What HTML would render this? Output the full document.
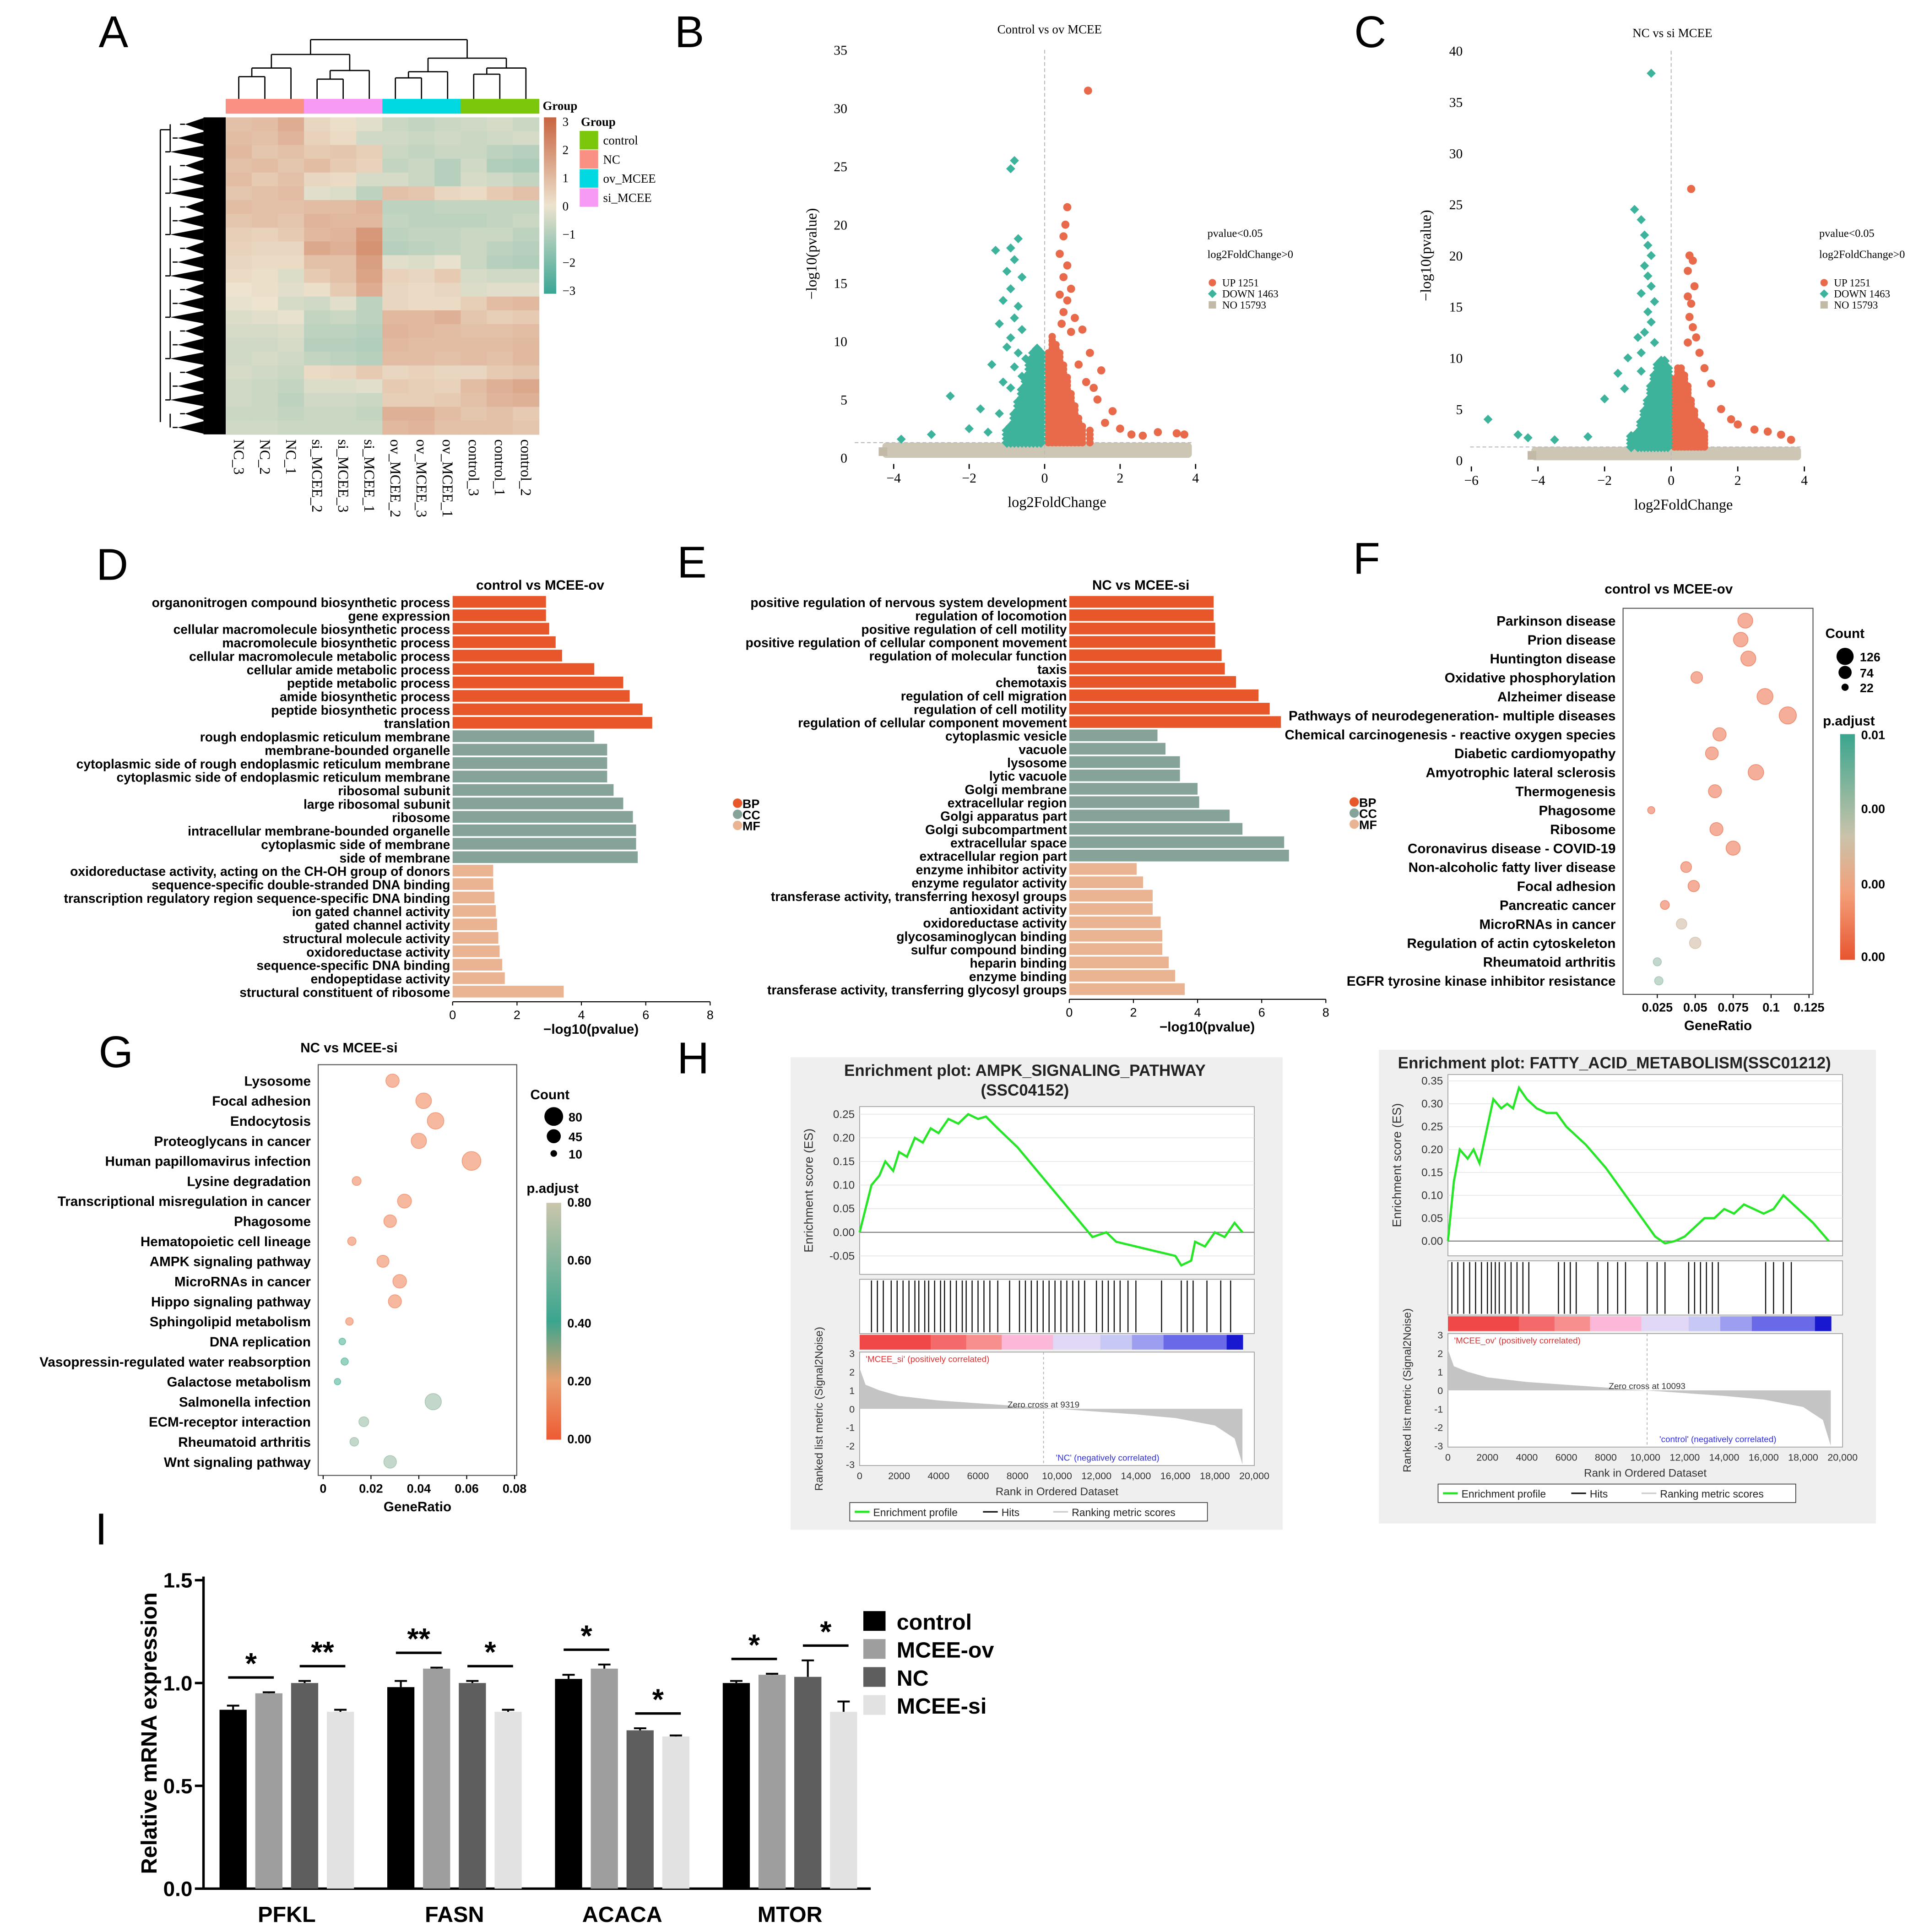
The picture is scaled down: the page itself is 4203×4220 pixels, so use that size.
<!DOCTYPE html>
<html><head><meta charset="utf-8"><style>
html,body{margin:0;padding:0;background:#fff;}
svg{display:block;}
</style></head><body>
<svg id="fig" xmlns="http://www.w3.org/2000/svg" width="4203" height="4220" viewBox="0 0 1560 1566" font-family="Liberation Sans, sans-serif">
<defs>
<linearGradient id="hmgrad" x1="0" y1="0" x2="0" y2="1"><stop offset="0" stop-color="#c8643f"/><stop offset="0.5" stop-color="#ede3cf"/><stop offset="1" stop-color="#3aa594"/></linearGradient>
<linearGradient id="fgrad" x1="0" y1="0" x2="0" y2="1"><stop offset="0" stop-color="#3aa58e"/><stop offset="0.45" stop-color="#c9c3aa"/><stop offset="0.7" stop-color="#f3a07a"/><stop offset="1" stop-color="#e8552f"/></linearGradient>
<linearGradient id="ggrad" x1="0" y1="0" x2="0" y2="1"><stop offset="0" stop-color="#cac6ab"/><stop offset="0.5" stop-color="#3aa58e"/><stop offset="0.75" stop-color="#e8a070"/><stop offset="1" stop-color="#ef5a33"/></linearGradient>
</defs>
<g id="root"></g>
</svg>
<script>
// ===== DATA =====
const hmCols = ["NC_3","NC_2","NC_1","si_MCEE_2","si_MCEE_3","si_MCEE_1","ov_MCEE_2","ov_MCEE_3","ov_MCEE_1","control_3","control_1","control_2"];
const hmVals = [
[0.8,0.9,1.3,0.3,0.1,-0.2,-0.6,-0.7,-0.6,-0.5,-0.4,-0.6],
[0.9,0.8,1.1,0.4,0.2,-0.5,-0.5,-0.6,-0.5,-0.6,-0.5,-0.4],
[1.0,0.7,0.8,0.6,0.7,0.5,-0.6,-0.7,-0.6,-0.6,-0.8,-0.9],
[0.8,0.9,0.7,0.9,0.6,0.4,-0.7,-0.6,-0.9,-0.5,-1.0,-1.1],
[0.9,0.6,0.8,0.3,0.2,-0.4,-0.4,-0.6,-0.9,-0.4,-0.5,-0.7],
[0.7,0.8,0.9,-0.2,-0.3,-0.8,0.8,0.7,0.3,0.2,0.6,0.8],
[0.9,0.8,0.8,0.9,0.9,1.1,-0.8,-0.8,-0.7,-0.7,-0.7,-0.7],
[0.7,0.8,0.7,1.1,1.0,1.0,-0.7,-0.8,-0.8,-0.8,-0.7,-0.6],
[0.5,0.4,0.6,1.0,1.1,1.8,-0.8,-0.7,-0.7,-0.6,-0.6,-0.8],
[0.4,0.3,0.3,1.4,1.2,1.9,-0.9,-0.8,-0.7,-0.6,-0.8,-0.9],
[0.3,0.2,0.2,0.8,0.8,1.6,-0.2,-0.3,-0.1,-0.6,-0.9,-1.0],
[0.2,0.1,-0.3,0.6,0.8,1.5,0.4,0.3,0.6,-0.4,-0.5,-0.5],
[0.0,0.1,-0.2,0.1,0.6,1.3,0.3,0.2,0.3,-0.3,-0.2,-0.2],
[-0.1,0.0,-0.4,-0.5,-0.2,-0.8,0.3,0.2,0.2,0.5,0.9,1.0],
[-0.3,-0.2,-0.1,-0.7,-0.6,-0.8,1.0,1.0,1.2,0.7,0.5,0.6],
[-0.4,-0.4,-0.3,-0.8,-0.8,-0.9,1.1,1.0,0.9,0.8,0.8,0.9],
[-0.5,-0.5,-0.4,-0.9,-0.9,-1.0,1.0,0.9,0.9,0.9,0.9,1.0],
[-0.5,-0.4,-0.5,-0.7,-0.8,-0.9,0.9,0.9,0.8,0.9,0.8,1.0],
[-0.4,-0.5,-0.6,0.2,0.3,0.6,0.3,0.4,0.3,0.3,0.6,0.7],
[-0.5,-0.6,-0.7,-0.3,-0.3,-0.2,0.6,0.5,0.4,0.9,1.2,1.4],
[-0.5,-0.6,-0.8,-0.5,-0.5,-0.6,0.5,0.5,0.6,0.8,1.1,1.2],
[-0.6,-0.6,-0.7,-0.6,-0.6,-0.7,1.2,1.2,0.9,0.7,0.8,0.6],
[-0.5,-0.5,-0.6,-0.6,-0.6,-0.6,1.0,1.1,0.8,0.8,0.8,0.7]
];
const groupNames = ["control","NC","ov_MCEE","si_MCEE"];
const groupColors = ["#7ac70c","#fa8f84","#00d9e1","#f79af5"];

const bUp = [[1.15,31.5],[0.6,21.5],[0.55,20],[0.5,19],[0.4,17.5],[0.6,16.5],[0.5,15.5],[0.7,14.5],[0.4,14],[0.6,13.5],[0.5,12.5],[0.8,12],[0.45,11.5],[1.0,11],[0.7,10.8],[1.2,9],[1.5,7.5],[1.3,6],[1.8,4],[1.4,5],[2.0,2.5],[2.3,2],[3.0,2.2],[3.5,2.1],[3.7,2],[2.6,1.9],[1.6,3],[0.9,8],[1.1,6.5]];
const bDown = [[-0.8,25.5],[-0.9,24.8],[-1.3,17.8],[-0.7,18.8],[-0.9,18],[-0.8,17],[-1.0,16],[-0.6,15.5],[-0.9,14.5],[-1.1,13.5],[-0.7,13],[-0.8,12],[-1.2,11.5],[-0.6,11],[-0.9,10.3],[-1.0,9.5],[-0.7,9],[-0.5,8.5],[-1.4,8],[-0.8,7.8],[-0.6,7],[-1.1,6.5],[-0.5,6.2],[-0.9,6],[-2.5,5.3],[-1.7,4.2],[-1.2,3.8],[-2.0,2.5],[-3.0,2],[-3.8,1.6],[-1.5,2.2]];
const bUpCols = [[0.1,9],[0.2,10.5],[0.3,10],[0.4,9],[0.5,8],[0.6,7],[0.7,5.5],[0.8,4.5],[0.9,3.5],[1.0,3],[1.2,2.5]];
const bDownCols = [[-0.1,9],[-0.2,9.5],[-0.3,9],[-0.4,8.5],[-0.5,7],[-0.6,6],[-0.7,5],[-0.8,4],[-0.9,3],[-1.0,2.5]];
const cUp = [[0.6,26.5],[0.55,20],[0.65,19.5],[0.5,18.5],[0.7,17],[0.5,16],[0.6,15.3],[0.55,14],[0.65,13],[0.75,12],[0.5,11.5],[0.85,10.5],[1.0,9],[1.2,7.5],[1.5,5],[2.0,3.5],[2.5,3],[2.9,2.8],[3.3,2.5],[3.6,2],[1.8,4]];
const cDown = [[-0.6,37.8],[-1.1,24.5],[-0.9,23.5],[-0.8,22],[-0.7,21],[-0.6,20],[-0.8,19],[-0.7,18],[-0.6,17],[-0.9,16.3],[-0.5,15.5],[-0.7,14.5],[-0.6,13.5],[-0.8,12.5],[-1.0,12],[-0.5,11.5],[-1.3,10],[-0.9,10.5],[-1.6,8.5],[-2.0,6],[-5.5,4],[-4.6,2.5],[-4.3,2.2],[-3.5,2],[-2.5,2.3],[-1.4,7],[-0.9,8.7]];
const cUpCols = [[0.1,8],[0.2,9],[0.3,9],[0.4,8.5],[0.5,7.5],[0.6,6],[0.7,5],[0.8,4],[0.9,3.5],[1.0,3]];
const cDownCols = [[-0.1,9],[-0.2,10],[-0.3,10],[-0.4,9.5],[-0.5,8.5],[-0.6,7.5],[-0.7,6],[-0.8,5],[-0.9,4],[-1.0,3],[-1.2,2.5]];

const dLabels = ["organonitrogen compound biosynthetic process","gene expression","cellular macromolecule biosynthetic process","macromolecule biosynthetic process","cellular macromolecule metabolic process","cellular amide metabolic process","peptide metabolic process","amide biosynthetic process","peptide biosynthetic process","translation","rough endoplasmic reticulum membrane","membrane-bounded organelle","cytoplasmic side of rough endoplasmic reticulum membrane","cytoplasmic side of endoplasmic reticulum membrane","ribosomal subunit","large ribosomal subunit","ribosome","intracellular membrane-bounded organelle","cytoplasmic side of membrane","side of membrane","oxidoreductase activity, acting on the CH-OH group of donors","sequence-specific double-stranded DNA binding","transcription regulatory region sequence-specific DNA binding","ion gated channel activity","gated channel activity","structural molecule activity","oxidoreductase activity","sequence-specific DNA binding","endopeptidase activity","structural constituent of ribosome"];
const dValues = [2.9,2.9,3.0,3.2,3.4,4.4,5.3,5.5,5.9,6.2,4.4,4.8,4.8,4.8,5.0,5.3,5.6,5.7,5.7,5.75,1.26,1.26,1.3,1.34,1.38,1.42,1.46,1.54,1.62,3.45];
const dTypes = ["BP","BP","BP","BP","BP","BP","BP","BP","BP","BP","CC","CC","CC","CC","CC","CC","CC","CC","CC","CC","MF","MF","MF","MF","MF","MF","MF","MF","MF","MF"];
const eLabels = ["positive regulation of nervous system development","regulation of locomotion","positive regulation of cell motility","positive regulation of cellular component movement","regulation of molecular function","taxis","chemotaxis","regulation of cell migration","regulation of cell motility","regulation of cellular component movement","cytoplasmic vesicle","vacuole","lysosome","lytic vacuole","Golgi membrane","extracellular region","Golgi apparatus part","Golgi subcompartment","extracellular space","extracellular region part","enzyme inhibitor activity","enzyme regulator activity","transferase activity, transferring hexosyl groups","antioxidant activity","oxidoreductase activity","glycosaminoglycan binding","sulfur compound binding","heparin binding","enzyme binding","transferase activity, transferring glycosyl groups"];
const eValues = [4.5,4.5,4.55,4.55,4.75,4.85,5.2,5.9,6.25,6.6,2.75,3.0,3.45,3.45,4.0,4.05,5.0,5.4,6.7,6.85,2.1,2.3,2.6,2.6,2.85,2.9,2.9,3.1,3.3,3.6];
const eTypes = dTypes;
const goTicks = [0,2,4,6,8];

const fLabels = ["Parkinson disease","Prion disease","Huntington disease","Oxidative phosphorylation","Alzheimer disease","Pathways of neurodegeneration- multiple diseases","Chemical carcinogenesis - reactive oxygen species","Diabetic cardiomyopathy","Amyotrophic lateral sclerosis","Thermogenesis","Phagosome","Ribosome","Coronavirus disease - COVID-19","Non-alcoholic fatty liver disease","Focal adhesion","Pancreatic cancer","MicroRNAs in cancer","Regulation of actin cytoskeleton","Rheumatoid arthritis","EGFR tyrosine kinase inhibitor resistance"];
const fRatio = [0.083,0.08,0.085,0.051,0.096,0.111,0.066,0.061,0.09,0.063,0.021,0.064,0.075,0.044,0.049,0.030,0.041,0.050,0.025,0.026];
const fCount = [95,90,96,58,108,126,75,70,102,72,22,73,85,50,55,34,47,56,28,30];
const fPadj = [0.0,0.0,0.0,0.0,0.0,0.0,0.0,0.0,0.0,0.0,0.0,0.0,0.0,0.0,0.0,0.001,0.004,0.005,0.006,0.008];
const fTicks = [0.025,0.05,0.075,0.1,0.125];
const gLabels = ["Lysosome","Focal adhesion","Endocytosis","Proteoglycans in cancer","Human papillomavirus infection","Lysine degradation","Transcriptional misregulation in cancer","Phagosome","Hematopoietic cell lineage","AMPK signaling pathway","MicroRNAs in cancer","Hippo signaling pathway","Sphingolipid metabolism","DNA replication","Vasopressin-regulated water reabsorption","Galactose metabolism","Salmonella infection","ECM-receptor interaction","Rheumatoid arthritis","Wnt signaling pathway"];
const gRatio = [0.029,0.042,0.047,0.040,0.062,0.014,0.034,0.028,0.012,0.025,0.032,0.030,0.011,0.008,0.009,0.006,0.046,0.017,0.013,0.028];
const gCount = [40,55,62,53,80,18,44,36,16,33,42,39,13,10,12,9,60,22,17,36];
const gPadj = [0.12,0.12,0.12,0.12,0.12,0.12,0.12,0.12,0.12,0.12,0.12,0.13,0.14,0.35,0.38,0.40,0.52,0.52,0.55,0.60];
const gTicks = [0,0.02,0.04,0.06,0.08];

const h1Rank = [0,0.3,0.6,1.0,1.3,1.7,2.0,2.4,2.8,3.2,3.6,4.0,4.5,5.0,5.5,6.0,6.4,7.0,8.0,9.0,10.0,11.0,11.8,12.5,13.0,14.0,15.0,16.0,16.3,16.8,17.0,17.5,18.0,18.5,19.0,19.4];
const h1ES = [0,0.05,0.1,0.12,0.15,0.13,0.17,0.16,0.2,0.19,0.22,0.21,0.24,0.23,0.25,0.24,0.245,0.22,0.18,0.13,0.08,0.03,-0.01,0.0,-0.02,-0.03,-0.04,-0.05,-0.07,-0.06,-0.02,-0.03,0.0,-0.01,0.02,0.0];
const h1Hits = [0.6,0.9,1.2,1.6,1.9,2.2,2.5,2.8,3.0,3.3,3.5,3.8,4.1,4.3,4.6,4.9,5.2,5.4,5.7,6.0,6.3,6.6,7.0,7.6,8.1,8.4,8.7,9.0,9.3,9.6,9.9,10.2,10.5,10.8,11.1,11.4,12.0,12.3,12.6,12.9,13.2,13.6,14.0,15.3,16.3,16.6,16.9,17.6,18.3,18.8];
const h2Rank = [0,0.3,0.6,1.0,1.3,1.6,2.0,2.3,2.7,3.0,3.3,3.6,4.0,4.5,5.0,5.5,6.0,7.0,8.0,9.0,10.0,10.5,11.0,11.5,12.0,12.5,13.0,13.5,14.0,14.5,15.0,15.5,16.0,16.5,17.0,17.5,18.5,19.3];
const h2ES = [0,0.13,0.2,0.18,0.2,0.17,0.25,0.31,0.29,0.3,0.29,0.335,0.31,0.29,0.28,0.28,0.25,0.21,0.16,0.1,0.04,0.01,-0.005,0.0,0.01,0.03,0.05,0.05,0.07,0.06,0.08,0.07,0.06,0.07,0.1,0.08,0.04,0.0];
const h2Hits = [0.2,0.5,0.8,1.1,1.4,1.7,2.0,2.2,2.4,2.6,2.9,3.2,3.5,3.8,4.1,5.6,5.9,6.2,6.5,7.6,8.1,8.6,9.0,10.1,10.6,11.0,12.2,12.5,12.8,13.1,13.4,13.7,16.1,16.5,17.0,17.4];
const metRank = [0,0.3,1,2,4,6,8,10,12,14,16,18,19,19.4];
const metVal = [2.2,1.3,1.0,0.7,0.45,0.3,0.15,0,-0.15,-0.3,-0.5,-0.9,-1.6,-3];
const rankTicks = [0,2000,4000,6000,8000,10000,12000,14000,16000,18000,20000];
const h1ESTicks = [0.25,0.2,0.15,0.1,0.05,0,-0.05];
const h2ESTicks = [0.35,0.3,0.25,0.2,0.15,0.1,0.05,0];

const iGenes = ["PFKL","FASN","ACACA","MTOR"];
const iSeries = ["control","MCEE-ov","NC","MCEE-si"];
const iValues = [[0.87,0.95,1.0,0.86],[0.98,1.07,1.0,0.86],[1.02,1.07,0.77,0.74],[1.0,1.04,1.03,0.86]];
const iErr = [[0.02,0.005,0.01,0.01],[0.03,0.005,0.01,0.01],[0.02,0.02,0.01,0.005],[0.01,0.005,0.08,0.05]];
const iSig = [["*","**"],["**","*"],["*","*"],["*","*"]];
const iTicks = [0,0.5,1.0,1.5];

// ===== DRAW =====
const NS="http://www.w3.org/2000/svg";
const root=document.getElementById('root');
function add(tag,attrs,name,parent){
  const el=document.createElementNS(NS,tag);
  for(const k in attrs) el.setAttribute(k,attrs[k]);
  
  
  (parent||root).appendChild(el);
  return el;
}
function txt(x,y,s,size,name,o){
  o=o||{};
  const a={x:x,y:y,'font-size':size,fill:o.fill||'#000'};
  if(o.anchor)a['text-anchor']=o.anchor;
  if(o.weight)a['font-weight']=o.weight;
  if(o.family)a['font-family']=o.family;
  if(o.rot!==undefined)a.transform='rotate('+o.rot+' '+x+' '+y+')';
  const el=add('text',a,name);
  el.textContent=s;
  return el;
}
function line(x1,y1,x2,y2,stroke,w,name,dash){
  const a={x1:x1,y1:y1,x2:x2,y2:y2,stroke:stroke,'stroke-width':w};
  if(dash)a['stroke-dasharray']=dash;
  return add('line',a,name);
}
const SERIF='Liberation Serif, serif';
[["A",80,38],["B",547,38],["C",1098,38],["D",78,470],["E",549,468],["F",1097,465],["G",80,865],["H",549,870],["I",77,1252]].forEach(p=>{
  txt(p[1],p[2],p[0],36,'panel-label-'+p[0].toLowerCase());
});

// ---- A heatmap
(function(){
  const x0=183,x1=437,y0=95,y1=352;
  const cw=(x1-x0)/hmCols.length, rh=(y1-y0)/hmVals.length;
  function col(v){
    const t=Math.max(-3,Math.min(3,v))/3;
    const mid=[237,227,207], pos=[200,100,63], neg=[58,165,148];
    const e=t>=0?pos:neg, a=Math.abs(t);
    return 'rgb('+mid.map((m,i)=>Math.round(m+(e[i]-m)*a)).join(',')+')';
  }
  hmVals.forEach((row,r)=>row.forEach((v,c)=>{
    add('rect',{x:x0+c*cw,y:y0+r*rh,width:cw+0.3,height:rh+0.3,fill:col(v)},'heatmap-cell');
  }));
  const grpOf=[1,1,1,3,3,3,2,2,2,0,0,0];
  grpOf.forEach((g,c)=>add('rect',{x:x0+c*cw,y:80,width:cw+0.3,height:12,fill:groupColors[g]},'group-bar-cell'));
  txt(440,89,'Group',10,'group-bar-title',{family:SERIF,weight:'bold'});
  const cx=i=>x0+cw*(i+0.5);
  const d=[[0,1,62],[3,4,64],[6,7,63],[9,10,60]];
  d.forEach(p=>{line(cx(p[0]),80,cx(p[0]),p[2],'#000',1,'col-dendro');line(cx(p[1]),80,cx(p[1]),p[2],'#000',1,'col-dendro');line(cx(p[0]),p[2],cx(p[1]),p[2],'#000',1,'col-dendro');});
  [[2,55],[5,57],[8,58],[11,55]].forEach((p,i)=>{const m=(cx(p[0]-2)+cx(p[0]-1))/2;line(cx(p[0]),80,cx(p[0]),p[1],'#000',1,'col-dendro');line(m,d[i][2],m,p[1],'#000',1,'col-dendro');line(m,p[1],cx(p[0]),p[1],'#000',1,'col-dendro');});
  const m1=((cx(0)+cx(1))/2+cx(2))/2, m2=((cx(3)+cx(4))/2+cx(5))/2, m3=((cx(6)+cx(7))/2+cx(8))/2, m4=((cx(9)+cx(10))/2+cx(11))/2;
  line(m1,55,m1,44,'#000',1,'col-dendro');line(m2,57,m2,44,'#000',1,'col-dendro');line(m1,44,m2,44,'#000',1,'col-dendro');
  line(m3,58,m3,47,'#000',1,'col-dendro');line(m4,55,m4,47,'#000',1,'col-dendro');line(m3,47,m4,47,'#000',1,'col-dendro');
  const a1=(m1+m2)/2,a2=(m3+m4)/2;
  line(a1,44,a1,32,'#000',1,'col-dendro');line(a2,47,a2,32,'#000',1,'col-dendro');line(a1,32,a2,32,'#000',1,'col-dendro');
  add('rect',{x:165,y:y0,width:18,height:y1-y0,fill:'#000'},'row-dendro-dense');
  hmVals.forEach((row,r)=>{const y=y0+(r+0.5)*rh;const dx=150-(r%3)*6;add('polygon',{points:dx+','+y+' 165,'+(y-rh*0.45)+' 165,'+(y+rh*0.45),fill:'#000'},'row-dendro-fan');line(dx-4,y,dx,y,'#000',1,'row-dendro');});
  for(let r=0;r<hmVals.length;r+=3){const ya=y0+(r+0.5)*rh,yb=y0+(Math.min(r+2,hmVals.length-1)+0.5)*rh;line(138,ya,138,yb,'#000',1,'row-dendro');}
  line(138,y0+10,130,y0+10,'#000',1,'row-dendro');line(130,y0+10,130,y1-10,'#000',1,'row-dendro');
  add('rect',{x:441,y:95,width:10,height:143,fill:'url(#hmgrad)'},'heatmap-colorbar');
  [3,2,1,0,-1,-2,-3].forEach((v,i)=>txt(456,102+i*22.8,v<0?'\u2212'+(-v):String(v),10,'colorbar-tick',{family:SERIF}));
  txt(471,102,'Group',10,'group-legend-title',{family:SERIF,weight:'bold'});
  groupNames.forEach((g,i)=>{add('rect',{x:470,y:106+i*15.5,width:15,height:15,fill:groupColors[i]},'group-legend-swatch');txt(489,117+i*15.5,g,10,'group-legend-label',{family:SERIF});});
  hmCols.forEach((c,i)=>txt(cx(i)-4,356,c,12,'heatmap-column-label',{family:SERIF,rot:90}));
})();

// ---- Volcano
function volcano(o){
  const X=v=>o.x0+v*o.sx, Y=v=>o.y0-v*o.sy;
  txt(o.titleX,o.titleY,o.title,10,'volcano-title',{family:SERIF,anchor:'middle'});
  o.xt.forEach(v=>{line(X(v),o.y0+5,X(v),o.y0+9,'#000',1,'x-tick');txt(X(v),o.y0+20,v<0?'\u2212'+(-v):String(v),11,'x-tick-label',{family:SERIF,anchor:'middle'});});
  o.yt.forEach(v=>{txt(o.axX-6,Y(v)+4,String(v),11,'y-tick-label',{family:SERIF,anchor:'end'});});
  txt(X(0)+10,o.y0+40,'log2FoldChange',12,'x-axis-title',{family:SERIF,anchor:'middle'});
  txt(o.ylx,o.y0-o.sy*o.ymax/2,'\u2212log10(pvalue)',12,'y-axis-title',{family:SERIF,anchor:'middle',rot:-90});
  add('rect',{x:X(o.gmin),y:Y(1.3),width:X(o.gmax)-X(o.gmin),height:Y(0)-Y(1.3),fill:'#cdc6b4',rx:3},'no-points-band');
  add('rect',{x:X(o.gmin)-3,y:Y(0.9),width:7,height:7,fill:'#c2b9a6'},'no-point');
  line(X(0),o.y0-o.sy*o.ymax,X(0),o.y0,'#bbb',0.8,'fc-threshold-line','3,2');
  line(o.axX,Y(1.3),X(o.gmax),Y(1.3),'#bbb',0.8,'p-threshold-line','3,2');
  o.upCols.forEach(c=>{for(let y=1.3;y<=c[1];y+=0.35)add('circle',{cx:X(c[0]),cy:Y(y),r:3,fill:'#e86a4a'},'up-point');});
  o.downCols.forEach(c=>{for(let y=1.3;y<=c[1];y+=0.35)add('rect',{x:X(c[0])-3,y:Y(y)-3,width:6,height:6,fill:'#3db39b',transform:'rotate(45 '+X(c[0])+' '+Y(y)+')'},'down-point');});
  o.up.forEach(p=>add('circle',{cx:X(p[0]),cy:Y(p[1]),r:3.3,fill:'#e86a4a'},'up-point'));
  o.down.forEach(p=>add('rect',{x:X(p[0])-2.6,y:Y(p[1])-2.6,width:5.2,height:5.2,fill:'#3db39b',transform:'rotate(45 '+X(p[0])+' '+Y(p[1])+')'},'down-point'));
  const lx=o.legX, ly=o.legY;
  txt(lx,ly,'pvalue<0.05',9,'legend-note',{family:SERIF});
  txt(lx,ly+17,'log2FoldChange>0',9,'legend-note',{family:SERIF});
  add('circle',{cx:lx+4,cy:ly+37,r:3,fill:'#e86a4a'},'legend-up-marker');txt(lx+12,ly+40,'UP 1251',8.5,'legend-up',{family:SERIF});
  add('rect',{x:lx+1.5,y:ly+43.5,width:5,height:5,fill:'#3db39b',transform:'rotate(45 '+(lx+4)+' '+(ly+46)+')'},'legend-down-marker');txt(lx+12,ly+49,'DOWN 1463',8.5,'legend-down',{family:SERIF});
  add('rect',{x:lx+1,y:ly+52,width:6,height:6,fill:'#c2b9a6'},'legend-no-marker');txt(lx+12,ly+58,'NO 15793',8.5,'legend-no',{family:SERIF});
}
volcano({x0:847,sx:30.6,y0:371,sy:9.45,ymax:35,axX:693,title:'Control vs ov MCEE',titleX:851,titleY:27,xt:[-4,-2,0,2,4],yt:[0,5,10,15,20,25,30,35],ylx:662,gmin:-4.3,gmax:3.9,up:bUp,down:bDown,upCols:bUpCols,downCols:bDownCols,legX:979,legY:192});
volcano({x0:1355,sx:27,y0:373,sy:8.3,ymax:40,axX:1192,title:'NC vs si MCEE',titleX:1356,titleY:30,xt:[-6,-4,-2,0,2,4],yt:[0,5,10,15,20,25,30,35,40],ylx:1160,gmin:-4.2,gmax:3.9,up:cUp,down:cDown,upCols:cUpCols,downCols:cDownCols,legX:1475,legY:192});

// ---- GO bars
const typeColor={BP:'#e8572a',CC:'#86a39a',MF:'#eab492'};
function goBars(o){
  const X=v=>o.x0+v*o.sx;
  const sp=(o.y1-o.y0)/(o.labels.length-1);
  txt(o.titleX,o.titleY,o.title,11,'go-title',{anchor:'middle',weight:'bold'});
  o.labels.forEach((l,i)=>{
    const y=o.y0+i*sp;
    add('rect',{x:X(0),y:y-5,width:X(o.values[i])-X(0),height:9.5,fill:typeColor[o.types[i]]},'go-bar');
    txt(X(0)-2,y+4,l,10.5,'go-term-label',{anchor:'end',weight:'bold'});
  });
  line(X(0),o.y1+8,X(8),o.y1+8,'#000',0.8,'x-axis');
  goTicks.forEach(v=>{line(X(v),o.y1+8,X(v),o.y1+11,'#000',0.8,'x-tick');txt(X(v),o.y1+22,String(v),10,'x-tick-label',{anchor:'middle'});});
  txt(X(4.3),o.y1+34,'\u2212log10(pvalue)',11,'x-axis-title',{anchor:'middle',weight:'bold'});
  ['BP','CC','MF'].forEach((t,i)=>{add('circle',{cx:o.legX,cy:o.legY+i*9,r:3.8,fill:typeColor[t]},'go-legend-marker');txt(o.legX+4,o.legY+4+i*9,t,10,'go-legend-label',{weight:'bold'});});
}
goBars({x0:367,sx:26.1,y0:488,y1:804,labels:dLabels,values:dValues,types:dTypes,title:'control vs MCEE-ov',titleX:438,titleY:478,legX:598,legY:651});
goBars({x0:867,sx:26,y0:488,y1:802,labels:eLabels,values:eValues,types:eTypes,title:'NC vs MCEE-si',titleX:925,titleY:478,legX:1098,legY:650});

// ---- Dot plots
function dotplot(o){
  const X=v=>o.x0+v*o.sx;
  const sp=(o.yl-o.yf)/(o.labels.length-1);
  add('rect',{x:o.bx0,y:o.by0,width:o.bx1-o.bx0,height:o.by1-o.by0,fill:'none',stroke:'#555','stroke-width':0.8},'plot-frame');
  txt(o.titleX,o.titleY,o.title,11,'dot-title',{anchor:'middle',weight:'bold'});
  o.labels.forEach((l,i)=>{
    const y=o.yf+i*sp;
    txt(o.bx0-6,y+4,l,11,'pathway-label',{anchor:'end',weight:'bold'});
    const r=Math.sqrt(o.count[i])*o.rk;
    add('circle',{cx:X(o.ratio[i]),cy:y,r:r,fill:o.color(o.padj[i]),'fill-opacity':0.7,stroke:o.color(o.padj[i]),'stroke-width':0.6},'dot');
  });
  o.ticks.forEach(v=>{line(X(v),o.by1,X(v),o.by1+3,'#000',0.8,'x-tick');txt(X(v),o.by1+14,String(v),10,'x-tick-label',{anchor:'middle',weight:'bold'});});
  txt((o.bx0+o.bx1)/2,o.by1+29,'GeneRatio',11,'x-axis-title',{anchor:'middle',weight:'bold'});
}
dotplot({x0:1313,sx:1230,bx0:1316,bx1:1470,by0:493,by1:806,yf:503,yl:795,labels:fLabels,ratio:fRatio,count:fCount,padj:fPadj,ticks:fTicks,rk:0.62,title:'control vs MCEE-ov',titleX:1353,titleY:481,color:p=>p<0.002?'#f08b6e':(p<0.006?'#d8c6b2':'#a8c8b8')});
txt(1480,517,'Count',11,'count-legend-title',{weight:'bold'});
[[126,532],[74,545],[22,557]].forEach(c=>{add('circle',{cx:1496,cy:c[1],r:Math.sqrt(c[0])*0.62,fill:'#000'},'count-legend-dot');txt(1508,c[1]+4,String(c[0]),10,'count-legend-label',{weight:'bold'});});
txt(1478,588,'p.adjust',11,'padj-legend-title',{weight:'bold'});
add('rect',{x:1492,y:595,width:12,height:183,fill:'url(#fgrad)'},'padj-colorbar');
[['0.01',599],['0.00',659],['0.00',720],['0.00',779]].forEach(t=>txt(1509,t[1],t[0],10,'padj-tick',{weight:'bold'}));

dotplot({x0:262,sx:1940,bx0:258,bx1:419,by0:863,by1:1196,yf:876,yl:1185,labels:gLabels,ratio:gRatio,count:gCount,padj:gPadj,ticks:gTicks,rk:0.85,title:'NC vs MCEE-si',titleX:283,titleY:853,color:p=>p<0.2?'#f39a78':(p<0.45?'#6cbfa8':'#a9c8b4')});
txt(430,891,'Count',11,'count-legend-title',{weight:'bold'});
[[80,905],[45,921],[10,935]].forEach(c=>{add('circle',{cx:449,cy:c[1],r:Math.sqrt(c[0])*0.85,fill:'#000'},'count-legend-dot');txt(461,c[1]+4,String(c[0]),10,'count-legend-label',{weight:'bold'});});
txt(427,967,'p.adjust',11,'padj-legend-title',{weight:'bold'});
add('rect',{x:443,y:975,width:12,height:192,fill:'url(#ggrad)'},'padj-colorbar');
[['0.80',978],['0.60',1025],['0.40',1076],['0.20',1123],['0.00',1170]].forEach(t=>txt(460,t[1],t[0],10,'padj-tick',{weight:'bold'}));

// ---- GSEA
function gsea(o){
  add('rect',{x:o.bx,y:o.by,width:o.bw,height:o.bh,fill:'#efefef'},'gsea-panel-bg');
  o.title.forEach((t,i)=>txt(o.tx,o.ty+i*16,t,13,'gsea-title',{anchor:'middle',weight:'bold',fill:'#222'}));
  const X=r=>o.px0+r/20000*(o.px1-o.px0);
  const Xk=k=>X(k*1000);
  const Y=v=>o.esZero-v*o.esK;
  add('rect',{x:o.px0,y:o.esTop,width:o.px1-o.px0,height:o.esBot-o.esTop,fill:'#fff',stroke:'#999','stroke-width':0.6},'es-plot-area');
  o.esTicks.forEach(v=>{line(o.px0,Y(v),o.px1,Y(v),'#e4e4e4',0.6,'es-grid');txt(o.px0-4,Y(v)+3,v.toFixed(2),9,'es-tick-label',{anchor:'end',fill:'#333'});});
  line(o.px0,Y(0),o.px1,Y(0),'#777',0.8,'es-zero-line');
  add('polyline',{points:o.rank.map((r,i)=>Xk(r)+','+Y(o.es[i])).join(' '),fill:'none',stroke:'#27e627','stroke-width':1.8},'enrichment-profile-line');
  txt(o.px0-38,(o.esTop+o.esBot)/2,'Enrichment score (ES)',10,'es-axis-title',{anchor:'middle',rot:-90,fill:'#333'});
  add('rect',{x:o.px0,y:o.esBot+4,width:o.px1-o.px0,height:44,fill:'#fff',stroke:'#999','stroke-width':0.6},'hits-area');
  o.hits.forEach(h=>line(Xk(h),o.esBot+5,Xk(h),o.esBot+47,'#111',0.9,'hit-mark'));
  const cb=o.esBot+49, segs=['#f04848','#f46a6a','#f78f8f','#fbb8d8','#e0d8f4','#c8c8f4','#9e9ef0','#6a6ae8','#1818d0'];
  const segW=[0.18,0.09,0.09,0.13,0.12,0.08,0.08,0.16,0.04];
  let acc=0; segs.forEach((c,i)=>{add('rect',{x:o.px0+acc*(o.px1-o.px0),y:cb,width:segW[i]*(o.px1-o.px0)+0.5,height:12,fill:c},'rank-colorbar-seg');acc+=segW[i];});
  const mTop=cb+14, mZero=mTop+46, mK=15;
  add('rect',{x:o.px0,y:mTop,width:o.px1-o.px0,height:92,fill:'#fff',stroke:'#999','stroke-width':0.6},'ranked-metric-area');
  add('polygon',{points:Xk(0)+','+mZero+' '+metRank.map((r,i)=>Xk(r)+','+(mZero-metVal[i]*mK)).join(' ')+' '+Xk(19.4)+','+mZero,fill:'#c4c4c4'},'ranked-metric-fill');
  [3,2,1,0,-1,-2,-3].forEach(v=>txt(o.px0-4,mZero-v*mK+3,String(v),8,'metric-tick-label',{anchor:'end',fill:'#333'}));
  txt(o.px0+5,mTop+8,o.posLab,7,'pos-corr-label',{fill:'#e03030'});
  txt(Xk(o.zero/1000),mZero-1,'Zero cross at '+o.zero,7,'zero-cross-label',{anchor:'middle',fill:'#333'});
  line(Xk(o.zero/1000),mTop,Xk(o.zero/1000),mTop+92,'#aaa',0.6,'zero-cross-line','2,2');
  txt(Xk(o.zero/1000)+10,mTop+88,o.negLab,7,'neg-corr-label',{fill:'#3030e0'});
  txt(o.px0-30,mZero,'Ranked list metric (Signal2Noise)',9,'metric-axis-title',{anchor:'middle',rot:-90,fill:'#333'});
  rankTicks.forEach(v=>txt(X(v),mTop+103,v>=10000?v.toLocaleString('en-US'):String(v),8,'rank-tick-label',{anchor:'middle',fill:'#333'}));
  txt((o.px0+o.px1)/2,mTop+116,'Rank in Ordered Dataset',9,'rank-axis-title',{anchor:'middle',fill:'#333'});
  const ly=mTop+122;
  add('rect',{x:o.px0-8,y:ly,width:290,height:15,fill:'#fff',stroke:'#333','stroke-width':0.6},'gsea-legend');
  line(o.px0-4,ly+7.5,o.px0+8,ly+7.5,'#27e627',1.8,'legend-profile-swatch');txt(o.px0+11,ly+11,'Enrichment profile',8.5,'legend-profile-label',{fill:'#222'});
  line(o.px0+100,ly+7.5,o.px0+112,ly+7.5,'#111',1.2,'legend-hits-swatch');txt(o.px0+115,ly+11,'Hits',8.5,'legend-hits-label',{fill:'#222'});
  line(o.px0+157,ly+7.5,o.px0+169,ly+7.5,'#ccc',1.2,'legend-metric-swatch');txt(o.px0+172,ly+11,'Ranking metric scores',8.5,'legend-metric-label',{fill:'#222'});
}
gsea({bx:641,by:857,bw:399,bh:383,tx:831,ty:872,title:['Enrichment plot: AMPK_SIGNALING_PATHWAY','(SSC04152)'],px0:697,px1:1017,esTop:897,esBot:1033,esZero:998.9,esK:383,esTicks:h1ESTicks,rank:h1Rank,es:h1ES,hits:h1Hits,posLab:"'MCEE_si' (positively correlated)",negLab:"'NC' (negatively correlated)",zero:9319});
gsea({bx:1118,by:851,bw:403,bh:384,tx:1309,ty:866,title:['Enrichment plot: FATTY_ACID_METABOLISM(SSC01212)'],px0:1174,px1:1494,esTop:871,esBot:1018,esZero:1006,esK:371,esTicks:h2ESTicks,rank:h2Rank,es:h2ES,hits:h2Hits,posLab:"'MCEE_ov' (positively correlated)",negLab:"'control' (negatively correlated)",zero:10093});

// ---- Bar chart I
(function(){
  const y0=1531, k=166.7, Y=v=>y0-v*k;
  const colors=['#000','#9e9e9e','#5e5e5e','#e2e2e2'];
  const gx0=[178,314,450,586], bw=22, step=29;
  line(165,1278,165,y0,'#000',2,'y-axis');
  line(165,y0,706,y0,'#000',2,'x-axis');
  iTicks.forEach(v=>{line(158,Y(v),165,Y(v),'#000',2,'y-tick');txt(156,Y(v)+6,v.toFixed(1),17,'y-tick-label',{anchor:'end',weight:'bold'});});
  txt(127,1405,'Relative mRNA expression',18,'y-axis-title',{anchor:'middle',weight:'bold',rot:-90});
  iGenes.forEach((g,gi)=>{
    iValues[gi].forEach((v,si)=>{
      const x=gx0[gi]+si*step;
      add('rect',{x:x,y:Y(v),width:bw,height:y0-Y(v),fill:colors[si]},'bar-'+g.toLowerCase()+'-'+si);
      line(x+bw/2,Y(v),x+bw/2,Y(v+iErr[gi][si]),'#000',1.5,'error-bar');
      line(x+bw/2-5,Y(v+iErr[gi][si]),x+bw/2+5,Y(v+iErr[gi][si]),'#000',1.5,'error-cap');
    });
    [[0,1],[2,3]].forEach((pr,pi)=>{
      const xa=gx0[gi]+pr[0]*step+bw/2-4, xb=gx0[gi]+pr[1]*step+bw/2+4;
      const top=Math.max(iValues[gi][pr[0]]+iErr[gi][pr[0]],iValues[gi][pr[1]]+iErr[gi][pr[1]]);
      line(xa,Y(top)-12,xb,Y(top)-12,'#000',2,'significance-line');
      txt((xa+xb)/2,Y(top)-15,iSig[gi][pi],24,'significance-mark',{anchor:'middle',weight:'bold'});
    });
    txt(gx0[gi]+step*1.5+bw/2,1558,g,18,'gene-label',{anchor:'middle',weight:'bold'});
  });
  iSeries.forEach((s,i)=>{add('rect',{x:700,y:1306+i*22.7,width:18,height:16,fill:colors[i]},'legend-swatch');txt(727,1321+i*22.7,s,18,'legend-label',{weight:'bold'});});
})();
</script>
</body></html>
